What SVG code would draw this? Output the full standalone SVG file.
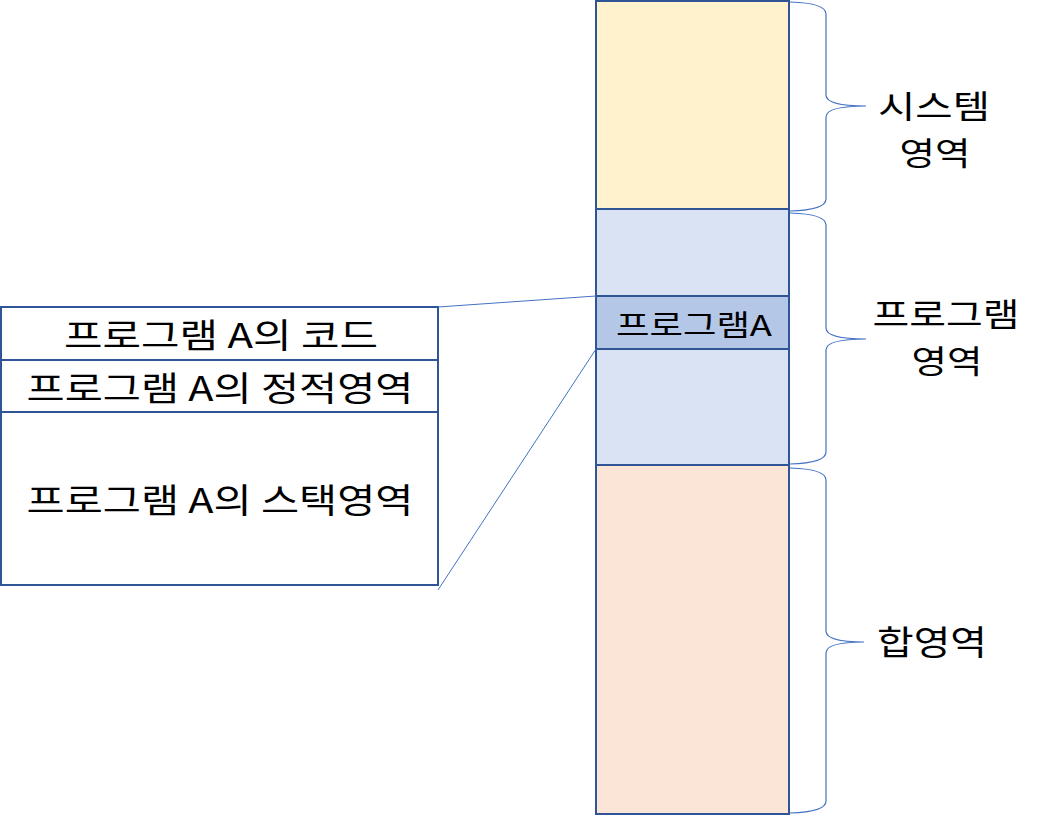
<svg xmlns="http://www.w3.org/2000/svg" width="1044" height="816" viewBox="0 0 1044 816">
<style>
.blk{stroke:#2F5597;stroke-width:2}
.t{font-family:"Noto Sans CJK KR","Noto Sans",sans-serif;fill:#000;text-anchor:middle;dominant-baseline:central}
.brace{fill:none;stroke:#4472C4;stroke-width:1.2}
.conn{fill:none;stroke:#4472C4;stroke-width:1}
</style>
<rect width="1044" height="816" fill="#fff"/>
<g id="system-area">
<rect class="blk" x="596" y="1" width="193" height="208" fill="#FFF2CC"/>
</g>
<g id="program-area">
<rect class="blk" x="596" y="209" width="193" height="256" fill="#DAE3F3"/>
</g>
<g id="programA">
<rect class="blk" x="596" y="296" width="193" height="53" fill="#B4C7E7"/>
<text class="t" x="694" y="323" font-size="29" textLength="156" lengthAdjust="spacingAndGlyphs">프로그램A</text>
</g>
<g id="heap-area">
<rect class="blk" x="596" y="465" width="193" height="349" fill="#FBE5D6"/>
</g>
<g id="programA-detail">
<rect class="blk" x="1" y="307" width="437" height="278" fill="#fff"/>
<line class="blk" x1="1" y1="360" x2="438" y2="360"/>
<line class="blk" x1="1" y1="412" x2="438" y2="412"/>
<text class="t" x="221" y="333" font-size="34" textLength="314" lengthAdjust="spacingAndGlyphs">프로그램 A의 코드</text>
<text class="t" x="220" y="386" font-size="34" textLength="387" lengthAdjust="spacingAndGlyphs">프로그램 A의 정적영역</text>
<text class="t" x="220" y="498" font-size="34" textLength="387" lengthAdjust="spacingAndGlyphs">프로그램 A의 스택영역</text>
</g>
<g id="connectors">
<line class="conn" x1="438" y1="307" x2="596" y2="296"/>
<line class="conn" x1="438" y1="590" x2="596" y2="349"/>
<path class="brace" d="M790,2 Q826,3 826,14 L826,95 Q826,106 866,106 Q826,106 826,117 L826,199 Q826,210 790,211"/>
<path class="brace" d="M790,213 Q826,214 826,225 L826,328 Q826,339 866,339 Q826,339 826,350 L826,452 Q826,463 790,464"/>
<path class="brace" d="M790,468 Q826,469 826,480 L826,631 Q826,642 864,642 Q826,642 826,653 L826,801 Q826,812 790,813"/>
</g>
<g id="labels">
<text class="t" font-size="32"><tspan x="934" y="104" textLength="112" lengthAdjust="spacingAndGlyphs">시스템</tspan><tspan x="935" y="151" textLength="71" lengthAdjust="spacingAndGlyphs">영역</tspan></text>
<text class="t" font-size="32"><tspan x="946" y="312" textLength="147" lengthAdjust="spacingAndGlyphs">프로그램</tspan><tspan x="947" y="359" textLength="71" lengthAdjust="spacingAndGlyphs">영역</tspan></text>
<text class="t" x="932" y="640" font-size="34" textLength="110" lengthAdjust="spacingAndGlyphs">합영역</text>
</g>
</svg>
